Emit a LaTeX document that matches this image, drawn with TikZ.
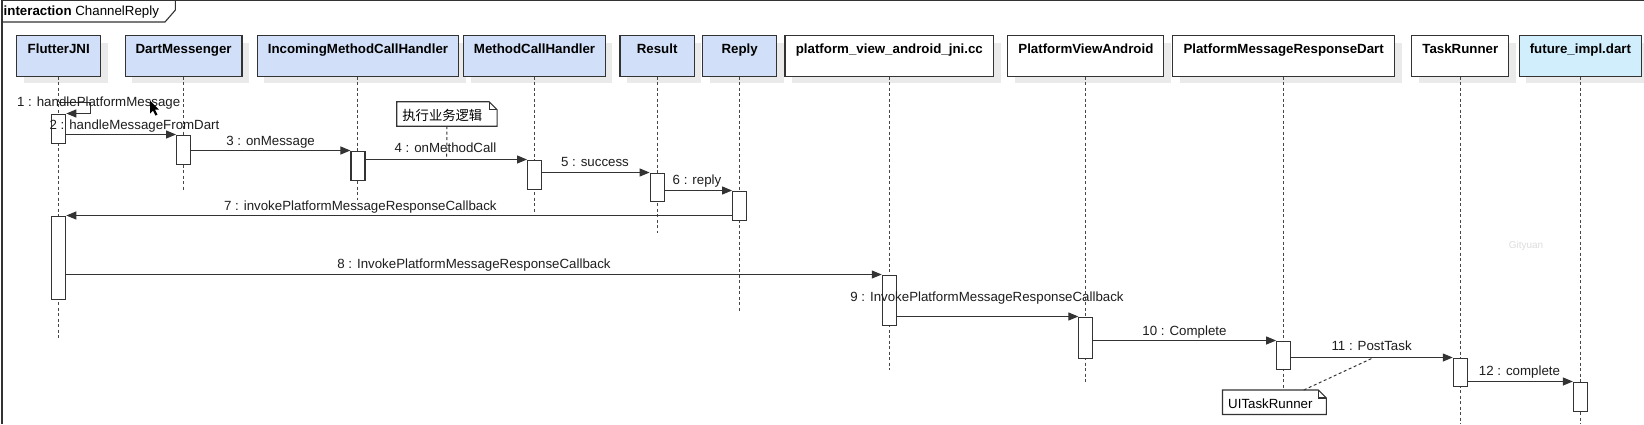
\documentclass[tikz,border=0pt]{standalone}
\usepackage{fontspec}
\setmainfont{Liberation Sans}
\newfontfamily\cjk{Noto Sans CJK SC}
\usetikzlibrary{arrows.meta,shadows}
\definecolor{hblue}{HTML}{D1E0F8}
\definecolor{hcyan}{HTML}{D0EEFB}
\definecolor{lc}{HTML}{333333}
\definecolor{shad}{HTML}{EAEAEA}
\definecolor{wmc}{HTML}{DDDDDD}
\definecolor{txt}{HTML}{1E1E1E}
\begin{document}
\begin{tikzpicture}[x=1pt,y=-1pt,
  font=\fontsize{13.3}{16}\selectfont,
  hdr/.style={draw=lc, line width=1.1pt, fill=white, anchor=north,
    inner xsep=0pt, inner ysep=0pt, text height=18.3pt, text depth=22.2pt,
    font=\fontsize{13.3}{16}\selectfont\bfseries,
    general shadow={fill=shad, shadow xshift=7pt, shadow yshift=-7pt}},
  life/.style={draw=lc!90, line width=1pt, dash pattern=on 3pt off 2.5pt},
  act/.style={draw=lc, line width=1.1pt, fill=white, minimum width=14pt,
    inner sep=0pt, anchor=north},
  msg/.style={draw=lc, line width=1.1pt, -{Triangle[length=10pt,width=8pt]}},
  lbl/.style={anchor=base, inner sep=0pt, text=txt},
  notebox/.style={anchor=north west, inner xsep=5.5pt, inner ysep=0pt,
    text height=18.2pt, text depth=5.9pt, align=left},
  noteline/.style={draw=lc, line width=1.1pt},
  notelink/.style={draw=lc, line width=1pt, dash pattern=on 3pt off 2.5pt},
  frameline/.style={draw=lc, line width=1.1pt}
]
\useasboundingbox (0,0) rectangle (1644,424);
\fill[white] (0,0) rectangle (1644,424);

% frame
\draw[frameline] (1644,0.5) -- (2,0.5) -- (2,424);
\draw[frameline] (2,22) -- (165,22) -- (175.4,10) -- (175.4,0.5);
\node[anchor=base west, inner sep=0pt] (title) at (3.5,15) {\textbf{interaction} ChannelReply};

% headers
\node[hdr, fill=hblue, minimum width=83.9pt]  (h1)  at (58.75,35)  {FlutterJNI};
\node[hdr, fill=hblue, minimum width=116.8pt] (h2)  at (183.6,35)  {DartMessenger};
\node[hdr, fill=hblue, minimum width=201.7pt] (h3)  at (357.95,35) {IncomingMethodCallHandler};
\node[hdr, fill=hblue, minimum width=141.7pt] (h4)  at (534.55,35) {MethodCallHandler};
\node[hdr, fill=hblue, minimum width=74.3pt]  (h5)  at (657.15,35) {Result};
\node[hdr, fill=hblue, minimum width=74.3pt]  (h6)  at (739.65,35) {Reply};
\node[hdr, minimum width=208.6pt]             (h7)  at (889.3,35)  {platform\_view\_android\_jni.cc};
\node[hdr, minimum width=156pt]               (h8)  at (1085.9,35) {PlatformViewAndroid};
\node[hdr, minimum width=221.9pt]             (h9)  at (1283.65,35) {PlatformMessageResponseDart};
\node[hdr, minimum width=96.8pt]              (h10) at (1460.3,35) {TaskRunner};
\node[hdr, fill=hcyan, minimum width=122.2pt] (h11) at (1580.4,35) {future\_impl.dart};

% lifeline ends
\coordinate (e1)  at (58.75,338);
\coordinate (e2)  at (183.6,192);
\coordinate (e3)  at (357.95,200);
\coordinate (e4)  at (534.55,213);
\coordinate (e5)  at (657.15,233);
\coordinate (e6)  at (739.65,313);
\coordinate (e7)  at (889.3,370);
\coordinate (e8)  at (1085.9,382);
\coordinate (e9)  at (1283.65,390);
\coordinate (e10) at (1460.3,424);
\coordinate (e11) at (1580.4,424);
\foreach \i in {1,...,11} { \draw[life] (h\i.south) -- (e\i); }

% activations
\node[act, minimum height=29pt]   (a1)  at (58.75,113.5) {};
\node[act, minimum height=29pt]   (a2)  at (183.6,134.5) {};
\node[act, minimum height=29.3pt] (a3)  at (357.95,150.5) {};
\node[act, minimum height=29.3pt] (a4)  at (534.55,159.5) {};
\node[act, minimum height=28.6pt] (a5)  at (657.15,172.5) {};
\node[act, minimum height=29pt]   (a6)  at (739.65,190.5) {};
\node[act, minimum height=83.6pt] (a7)  at (58.75,215.5) {};
\node[act, minimum height=50pt]   (a8)  at (889.3,274.5) {};
\node[act, minimum height=41pt]   (a9)  at (1085.9,316.5) {};
\node[act, minimum height=28.6pt] (a10) at (1283.65,340.5) {};
\node[act, minimum height=28.7pt] (a11) at (1460.3,357.5) {};
\node[act, minimum height=29.3pt] (a12) at (1580.4,381.5) {};

% notes
\node[notebox, text width=89pt] (n1) at (396.7,101.7) {\cjk 执行业务逻辑};
\draw[noteline] (n1.north west) -- ([xshift=-8pt]n1.north east) -- ([yshift=-8pt]n1.north east)
  -- (n1.south east) -- (n1.south west) -- cycle;
\draw[noteline] ([xshift=-8pt]n1.north east) -- ([xshift=-8pt,yshift=-8pt]n1.north east) -- ([yshift=-8pt]n1.north east);
\coordinate (c1) at (446.7,157);
\draw[notelink] (n1.south) -- (c1);

\node[notebox, text width=92.5pt] (n2) at (1222.5,390) {UITaskRunner};
\draw[noteline] (n2.north west) -- ([xshift=-8pt]n2.north east) -- ([yshift=-8pt]n2.north east)
  -- (n2.south east) -- (n2.south west) -- cycle;
\draw[noteline] ([xshift=-8pt]n2.north east) -- ([xshift=-8pt,yshift=-8pt]n2.north east) -- ([yshift=-8pt]n2.north east);
\coordinate (c2) at (1372.7,358);
\draw[notelink] ([xshift=81.3pt]n2.north west) -- (c2);

% messages
\coordinate (s1) at (58.75,102.5);
\draw[msg] (s1) -- ++(31.5,0) -- ++(0,11) -- (a1.north east);
\draw[msg] (a2.north west -| a1.east) -- (a2.north west);
\draw[msg] (a3.north west -| a2.east) -- (a3.north west);
\draw[msg] (a4.north west -| a3.east) -- (a4.north west);
\draw[msg] (a5.north west -| a4.east) -- (a5.north west);
\draw[msg] (a6.north west -| a5.east) -- (a6.north west);
\draw[msg] (a7.north east -| a6.west) -- (a7.north east);
\draw[msg] (a8.north west -| a7.east) -- (a8.north west);
\draw[msg] (a9.north west -| a8.east) -- (a9.north west);
\draw[msg] (a10.north west -| a9.east) -- (a10.north west);
\draw[msg] (a11.north west -| a10.east) -- (a11.north west);
\draw[msg] (a12.north west -| a11.east) -- (a12.north west);

% labels
\node[lbl] (t1)  at (98.7,106.7)  {1 : handlePlatformMessage};
\node[lbl] (t2)  at (134.5,129.3) {2 : handleMessageFromDart};
\node[lbl] (t3)  at (270.6,145.7) {3 : onMessage};
\node[lbl] (t4)  at (445.5,152)   {4 : onMethodCall};
\node[lbl] (t5)  at (595,166.7)   {5 : success};
\node[lbl] (t6)  at (697,184)     {6 : reply};
\node[lbl] (t7)  at (360.4,210)   {7 : invokePlatformMessageResponseCallback};
\node[lbl] (t8)  at (474,268.3)   {8 : InvokePlatformMessageResponseCallback};
\node[lbl] (t9)  at (987,301.7)   {9 : InvokePlatformMessageResponseCallback};
\node[lbl] (t10) at (1184.5,335)  {10 : Complete};
\node[lbl] (t11) at (1371.6,350.7) {11 : PostTask};
\node[lbl] (t12) at (1519.5,375.7) {12 : complete};

% watermark
\node[anchor=base, inner sep=0pt, font=\fontsize{10}{12}\selectfont, text=wmc] (wm) at (1526,248) {Gityuan};

% mouse cursor
\fill[black] (150,100.5) -- ++(0,13) -- ++(3,-3) -- ++(2.5,5) -- ++(2,-1) -- ++(-2.5,-5) -- ++(4,0) -- cycle;
\end{tikzpicture}
\end{document}
